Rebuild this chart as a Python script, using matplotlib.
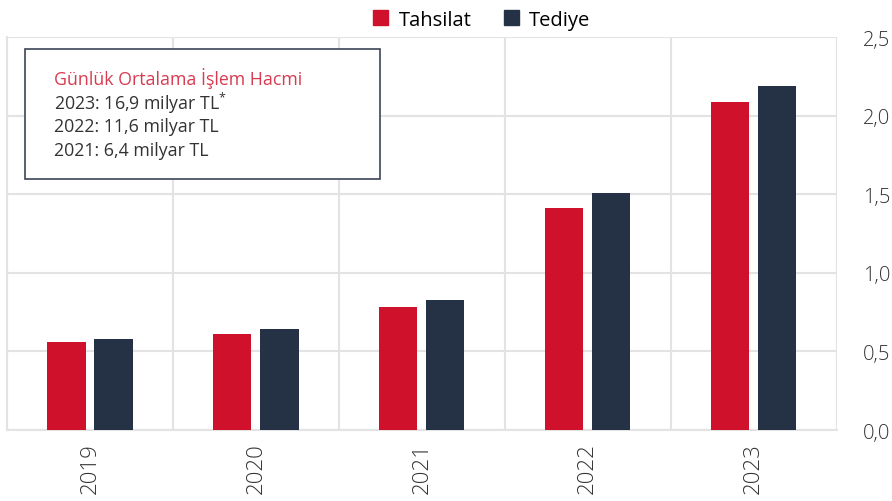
import numpy as np
import matplotlib.pyplot as plt
from matplotlib.ticker import FuncFormatter
from matplotlib.patches import Patch

years = ["2019", "2020", "2021", "2022", "2023"]
tahsilat = [0.56, 0.61, 0.78, 1.41, 2.09]
tediye = [0.58, 0.64, 0.83, 1.51, 2.19]
box_title = "Günlük Ortalama İşlem Hacmi"
box_lines = ["2023: 16,9 milyar TL$^{*}$", "2022: 11,6 milyar TL", "2021: 6,4 milyar TL"]

red = "#d0112b"
navy = "#253245"
grid_c = "#e3e3e3"

plt.rcParams['font.family'] = ['Open Sans', 'DejaVu Sans']
plt.rcParams['mathtext.fontset'] = 'custom'
plt.rcParams['mathtext.rm'] = 'Open Sans'

fig = plt.figure(figsize=(8.92, 5.02), dpi=100)
ax = fig.add_axes([0.0079, 0.1414, 0.930, 0.7825])

x = np.arange(len(years))
w = 0.23
ax.bar(x - 0.142, tahsilat, w, color=red, zorder=3)
ax.bar(x + 0.142, tediye, w, color=navy, zorder=3)

ax.set_xlim(-0.5, len(years) - 0.5)
ax.set_ylim(0, 2.5)
ax.set_yticks(np.arange(0, 2.51, 0.5))
ax.yaxis.set_major_formatter(FuncFormatter(lambda v, p: f"{v:.1f}".replace(".", ",")))
ax.yaxis.tick_right()
ax.set_xticks(x)
ax.set_xticklabels(years, rotation=90)

# vertical separators between categories
ax.set_xticks(np.arange(-0.5, len(years), 1), minor=True)
ax.grid(axis="x", which="minor", color=grid_c, lw=1.5, zorder=0)
ax.grid(axis="y", which="major", color=grid_c, lw=1.5, zorder=0)
ax.tick_params(axis="both", which="both", length=0)
ax.tick_params(axis="y", labelsize=14.5, labelcolor="#333333", pad=19)
ax.tick_params(axis="x", labelsize=16, labelcolor="#333333", pad=9)
for lab in ax.get_yticklabels() + ax.get_xticklabels():
    lab.set_fontweight("light")
for s in ax.spines.values():
    s.set_visible(False)
ax.spines["left"].set_visible(True)
ax.spines["bottom"].set_visible(True)
ax.spines["left"].set_color(grid_c)
ax.spines["bottom"].set_color(grid_c)
ax.spines["left"].set_linewidth(1.5)
ax.spines["bottom"].set_linewidth(1.5)

handles = [Patch(color=red, label="Tahsilat"), Patch(color=navy, label="Tediye")]
fig.legend(handles=handles, loc="upper center", bbox_to_anchor=(0.54, 1.015), ncol=2,
           frameon=False, fontsize=14.5, handlelength=0.75, handleheight=0.75,
           columnspacing=1.6, handletextpad=0.5)

# info box
box = plt.Rectangle((25, 502 - 180), 355, 130, transform=None, facecolor="white",
                    edgecolor="#3c4657", lw=1.2, zorder=5)
fig.patches.append(box)
fig.text(54 / 892, 1 - 79 / 502, box_title, color="#d83a50", fontsize=12.8, va="center", zorder=6)
for i, line in enumerate(box_lines):
    fig.text(54 / 892, 1 - (103 + 24 * i) / 502, line, color="#333333", fontsize=12.8,
             va="center", zorder=6)

fig.savefig("out.png", dpi=100)
